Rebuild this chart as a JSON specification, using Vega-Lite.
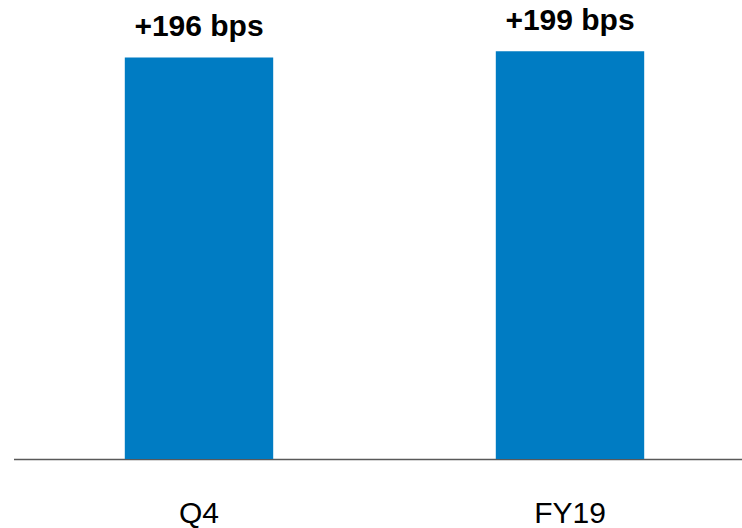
{
  "$schema": "https://vega.github.io/schema/vega-lite/v6.json",
  "width": 742,
  "height": 459,
  "autosize": {"type": "none"},
  "padding": {"left": 13.5, "top": 0, "right": 0, "bottom": 69},
  "background": "white",
  "config": {"view": {"stroke": null}, "font": "Liberation Sans"},
  "data": {
    "values": [
      {"period": "Q4", "bps": 196, "label": "+196 bps"},
      {"period": "FY19", "bps": 199, "label": "+199 bps"}
    ]
  },
  "encoding": {
    "x": {
      "field": "period",
      "type": "nominal",
      "sort": null,
      "scale": {"paddingInner": 0.6, "paddingOuter": 0.3},
      "axis": {
        "title": null,
        "ticks": false,
        "labelAngle": 0,
        "labelFont": "Liberation Sans",
        "labelFontSize": 30,
        "labelColor": "#000000",
        "labelBaseline": "alphabetic",
        "labelPadding": 63,
        "domainColor": "#595959",
        "domainWidth": 1.5
      }
    },
    "y": {
      "field": "bps",
      "type": "quantitative",
      "scale": {"domain": [0, 224], "nice": false},
      "axis": null
    }
  },
  "layer": [
    {"mark": {"type": "bar", "color": "#007CC3"}},
    {
      "mark": {
        "type": "text",
        "dy": -21,
        "baseline": "alphabetic",
        "fontWeight": "bold",
        "fontSize": 30,
        "font": "Liberation Sans",
        "color": "#000000"
      },
      "encoding": {"text": {"field": "label"}}
    }
  ]
}
